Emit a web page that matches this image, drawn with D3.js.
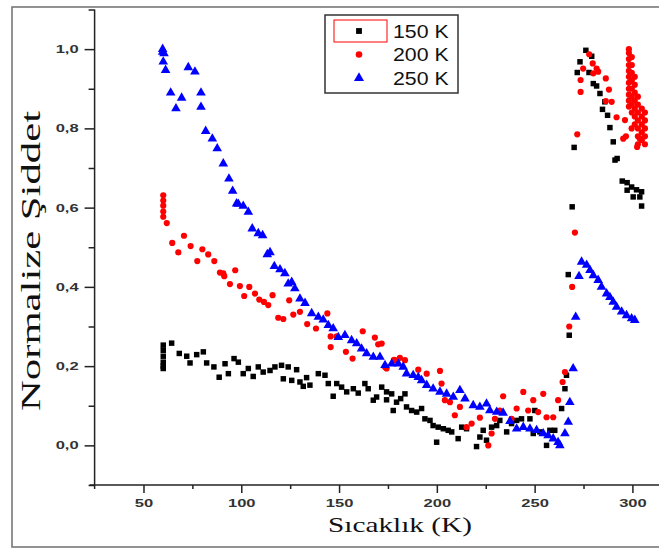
<!DOCTYPE html>
<html><head><meta charset="utf-8">
<script src="https://cdn.jsdelivr.net/npm/d3@7"></script>
<style>body{margin:0;background:#fff}svg{display:block}</style>
</head><body>
<svg id="c" width="659" height="549"></svg>
<script>
// ---- data (temperature K, normalized intensity) ----
const seriesNames = ["150 K", "200 K", "250 K"];
const xTicksMajor = [50, 100, 150, 200, 250, 300];
const yTicksMajor = [0, 0.2, 0.4, 0.6, 0.8, 1.0];

const s150 = [[60.1,0.253],[60.1,0.24],[60.1,0.225],[60.1,0.21],[60.1,0.2],[60.1,0.194],
[64.4,0.258],[68.3,0.232],[72.1,0.225],[73.8,0.208],[77.2,0.229],[80.6,0.236],[82.3,0.208],[86.0,0.198],[88.7,0.172],[91.7,0.206],[93.4,0.181],[96.3,0.219],[98.5,0.21],[101.0,0.181],[103.6,0.194],[106.1,0.174],[108.7,0.198],[111.2,0.185],[114.7,0.189],[117.2,0.198],[120.6,0.202],[124.0,0.198],[121.5,0.168],[125.8,0.164],[128.3,0.191],[130.0,0.16],[131.7,0.149],[135.1,0.152],[133.4,0.171],[139.4,0.181],[142.8,0.177],[144.5,0.156],[147.0,0.124],[148.8,0.156],[151.3,0.147],[153.9,0.135],[157.3,0.143],[159.8,0.132],[163.2,0.156],[164.9,0.143],[167.5,0.114],[169.2,0.122],[171.8,0.147],[174.3,0.115],[174.3,0.135],[176.9,0.13],[177.7,0.088],[179.4,0.109],[181.5,0.118],[183.7,0.13],[184.5,0.097],[187.1,0.088],[189.7,0.084],[192.2,0.093],[193.9,0.067],[196.5,0.063],[198.1,0.05],[199.9,0.008],[200.7,0.046],[203.3,0.042],[205.8,0.038],[207.6,0.034],[210.9,0.017],[212.7,0.046],[215.2,0.042],[220.3,-0.003],[222.0,0.021],[223.7,0.038],[225.4,0.013],[228.0,0.046],[230.6,0.05],[232.2,0.063],[235.7,0.034],[238.2,0.055],[240.8,0.063],[243.3,0.067],[247.6,0.067],[250.1,0.088],[249.3,0.03],[252.7,0.034],[256.1,0.0],[257.8,0.038],[260.3,0.038],[263.8,0.093],[265.5,0.143],[266.3,0.177],[267.7,0.278],[267.2,0.431],[269.2,0.602],[270.2,0.752],[271.8,0.941],[273.2,0.968],[276.2,0.997],[279.2,0.982],[277.8,0.941],[280.0,0.913],[281.7,0.907],[283.4,0.888],[284.7,0.848],[285.9,0.867],[287.3,0.833],[288.5,0.802],[290.2,0.766],[292.2,0.724],[291.1,0.72],[294.8,0.667],[297.3,0.663],[299.6,0.652],[302.1,0.645],[304.7,0.64],[297.3,0.644],[300.4,0.627],[303.8,0.627],[304.7,0.604]];

const s200 = [[60.1,0.631],[60.1,0.618],[60.1,0.605],[60.1,0.59],[60.1,0.577],[61.9,0.561],[64.7,0.511],[67.8,0.487],[70.7,0.529],[74.1,0.503],[77.5,0.465],[80.1,0.495],[83.1,0.482],[86.2,0.465],[89.1,0.436],[90.8,0.434],[91.3,0.427],[94.2,0.407],[96.9,0.442],[99.3,0.402],[101.5,0.377],[104.1,0.4],[107.0,0.383],[109.2,0.368],[111.6,0.362],[113.8,0.354],[116.0,0.379],[118.9,0.322],[121.5,0.319],[124.5,0.366],[126.6,0.33],[130.0,0.337],[133.7,0.306],[138.2,0.295],[144.0,0.333],[145.7,0.275],[145.7,0.248],[148.8,0.275],[153.5,0.236],[156.9,0.219],[162.1,0.288],[168.3,0.272],[170.0,0.255],[171.8,0.257],[173.5,0.198],[174.3,0.194],[178.1,0.216],[178.6,0.215],[181.1,0.221],[183.7,0.215],[190.5,0.191],[194.8,0.181],[201.6,0.188],[202.4,0.156],[204.1,0.114],[206.7,0.109],[209.2,0.076],[211.8,0.097],[215.2,0.046],[217.8,0.055],[222.0,0.07],[226.3,0.0],[228.0,0.03],[229.7,0.067],[232.2,0.088],[233.9,0.124],[238.2,0.067],[240.8,0.093],[244.2,0.135],[246.7,0.088],[249.3,0.114],[251.8,0.084],[254.4,0.13],[256.1,0.071],[259.5,0.071],[262.0,0.114],[264.3,0.16],[265.5,0.185],[267.7,0.3],[269.2,0.4],[270.6,0.537],[271.8,0.785],[273.5,0.892],[273.5,0.922],[274.8,0.951],[277.9,0.987],[279.7,0.964],[281.7,0.951],[280.0,0.939],[282.5,0.943],[286.4,0.926],[288.0,0.898],[286.4,0.869],[289.4,0.867],[291.9,0.828],[296.2,0.821],[299.6,0.8],[296.7,0.78],[295.3,0.774],[302.4,0.753],[303.8,0.774],
[298.2,1.0],[298.2,0.99],[298.2,0.975],[298.2,0.96],[298.2,0.945],[298.2,0.93],[298.2,0.915],[298.2,0.9],[298.2,0.885],[298.2,0.87],[298.2,0.855],
[299.7,0.98],[299.7,0.96],[299.7,0.94],[299.7,0.92],[299.7,0.9],[299.7,0.88],[299.7,0.86],[299.7,0.84],
[301.2,0.93],[301.2,0.91],[301.2,0.89],[301.2,0.87],[301.2,0.85],[301.2,0.83],[301.2,0.81],
[302.8,0.88],[302.8,0.86],[302.8,0.84],[302.8,0.82],[302.8,0.8],[302.8,0.78],[302.8,0.76],
[304.8,0.85],[304.8,0.83],[304.8,0.81],[304.8,0.79],[304.8,0.77],
[306.4,0.84],[306.4,0.82],[306.4,0.8],[306.4,0.78],[306.4,0.76]];

const s250 = [[59.8,1.0],[59.8,0.993],[60.5,0.989],[60.1,0.968],[61.3,0.947],[72.9,0.954],[76.3,0.943],[63.9,0.89],[69.5,0.877],[66.6,0.85],[79.4,0.89],[79.4,0.854],[81.8,0.793],[85.2,0.774],[87.7,0.749],[90.8,0.711],[93.7,0.673],[95.6,0.642],[97.6,0.61],[98.5,0.609],[101.0,0.604],[103.6,0.589],[105.6,0.547],[108.7,0.535],[110.9,0.53],[113.3,0.482],[114.7,0.487],[116.9,0.452],[119.8,0.444],[122.3,0.434],[124.0,0.408],[125.8,0.412],[127.4,0.396],[130.0,0.37],[132.6,0.359],[136.0,0.333],[139.4,0.324],[141.9,0.317],[144.5,0.303],[147.0,0.295],[149.6,0.273],[153.0,0.278],[156.4,0.265],[159.0,0.257],[161.5,0.244],[164.1,0.232],[167.5,0.223],[170.9,0.223],[173.5,0.202],[176.9,0.206],[180.3,0.206],[182.8,0.198],[184.5,0.181],[187.9,0.177],[190.5,0.172],[192.2,0.164],[194.8,0.152],[198.1,0.143],[201.6,0.135],[205.0,0.13],[208.4,0.122],[211.8,0.139],[214.4,0.118],[218.6,0.101],[222.0,0.097],[225.4,0.105],[227.1,0.088],[230.6,0.084],[233.9,0.082],[237.4,0.061],[240.8,0.042],[244.2,0.046],[247.6,0.042],[251.0,0.038],[254.4,0.03],[256.9,0.025],[259.5,0.017],[262.0,0.008],[262.9,0.0],[265.5,0.03],[267.2,0.059],[268.0,0.109],[269.7,0.194],[271.0,0.324],[272.7,0.427],[274.0,0.463],[276.6,0.455],[278.3,0.442],[280.0,0.429],[282.5,0.417],[284.2,0.4],[286.8,0.383],[288.5,0.374],[290.2,0.362],[291.9,0.349],[294.5,0.337],[297.0,0.328],[299.6,0.32],[301.2,0.316]];

const seriesData = [s150, s200, s250];
const seriesColors = ["#000000", "#ff0000", "#0000ff"];
const seriesSymbols = [d3.symbolSquare, d3.symbolCircle, d3.symbolTriangle];
const symbolSizes = [30, 30, 40];

// ---- drawing ----
const svg = d3.select("#c");
const x = d3.scaleLinear().domain([25, 325]).range([94.6, 681.3]);
const y = d3.scaleLinear().domain([-0.1, 1.1]).range([485, 9.5]);

function stretch(sel, k) {
  sel.each(function () {
    const w = this.getComputedTextLength();
    this.setAttribute("textLength", w * k);
    this.setAttribute("lengthAdjust", "spacingAndGlyphs");
  });
}

// outer frame
svg.append("rect").attr("x", 12).attr("y", 7).attr("width", 700).attr("height", 540)
  .attr("fill", "none").attr("stroke", "#777").attr("stroke-width", 1.6);

const fmt = v => d3.format(".1f")(v).replace(".", ",");

// y axis
const yMinor = d3.range(-0.1, 1.15, 0.2).map(v => +v.toFixed(1));
const gyMinor = svg.append("g").attr("transform", `translate(${x(25)},0)`)
  .call(d3.axisLeft(y).tickValues(yMinor).tickSize(6).tickFormat(""));
const gy = svg.append("g").attr("transform", `translate(${x(25)},0)`)
  .call(d3.axisLeft(y).tickValues(yTicksMajor).tickSize(10).tickPadding(6).tickFormat(fmt));
// x axis
const xMinor = [75, 125, 175, 225, 275];
const gxMinor = svg.append("g").attr("transform", `translate(0,${y(-0.1)})`)
  .call(d3.axisBottom(x).tickValues(xMinor).tickSize(4).tickFormat(""));
const gx = svg.append("g").attr("transform", `translate(0,${y(-0.1)})`)
  .call(d3.axisBottom(x).tickValues(xTicksMajor).tickSize(8).tickPadding(6).tickFormat(d3.format("d")));

[gyMinor, gy, gxMinor, gx].forEach(g => {
  g.select(".domain").remove();
  g.selectAll("line").attr("stroke", "#222").attr("stroke-width", 1.5);
});
[gy, gx].forEach(g => {
  g.selectAll("text").attr("font-family", "Arial, 'Liberation Sans', sans-serif")
    .attr("font-size", 11).attr("font-weight", "bold").attr("fill", "#333");
});
stretch(gy.selectAll("text"), 1.5);
stretch(gx.selectAll("text"), 1.5);

// axis lines
svg.append("line").attr("x1", x(25)).attr("x2", x(25)).attr("y1", y(1.1)).attr("y2", y(-0.1) + 4)
  .attr("stroke", "#222").attr("stroke-width", 1.5);
svg.append("line").attr("x1", x(25) - 5).attr("x2", 659).attr("y1", y(-0.1)).attr("y2", y(-0.1))
  .attr("stroke", "#222").attr("stroke-width", 1.5);

// points
const plot = svg.append("g");
seriesData.forEach((data, i) => {
  plot.append("g").selectAll("path").data(data).join("path")
    .attr("transform", d => `translate(${x(d[0])},${y(d[1])})`)
    .attr("d", d3.symbol().type(seriesSymbols[i]).size(symbolSizes[i]))
    .attr("fill", seriesColors[i]);
});

// axis titles
const xt = svg.append("text").attr("x", 400).attr("y", 532).attr("text-anchor", "middle")
  .attr("font-family", "'Liberation Serif', 'Times New Roman', serif").attr("font-size", 21)
  .attr("fill", "#111").text("Sıcaklık (K)");
xt.attr("textLength", 144).attr("lengthAdjust", "spacingAndGlyphs");
const yt = svg.append("text").attr("transform", "translate(40,261) rotate(-90)").attr("text-anchor", "middle")
  .attr("font-family", "'Liberation Serif', 'Times New Roman', serif").attr("font-size", 27)
  .attr("fill", "#111").text("Normalize Şiddet");
yt.attr("textLength", 300).attr("lengthAdjust", "spacingAndGlyphs");

// legend
const lg = svg.append("g");
lg.append("rect").attr("x", 325).attr("y", 15).attr("width", 133).attr("height", 78)
  .attr("fill", "#fff").attr("stroke", "#333").attr("stroke-width", 1.5);
lg.append("rect").attr("x", 334).attr("y", 20).attr("width", 53).attr("height", 22)
  .attr("fill", "none").attr("stroke", "#ff0000").attr("stroke-width", 1);
const rowsY = [31, 54.5, 78];
seriesNames.forEach((name, i) => {
  lg.append("path").attr("transform", `translate(359,${rowsY[i]})`)
    .attr("d", d3.symbol().type(seriesSymbols[i]).size(symbolSizes[i] + 4)).attr("fill", seriesColors[i]);
  const t = lg.append("text").attr("x", 393).attr("y", rowsY[i]).attr("dy", "0.36em")
    .attr("font-family", "Arial, 'Liberation Sans', sans-serif").attr("font-size", 18.5)
    .attr("fill", "#111").text(name);
  stretch(t, 1.15);
});
</script>
</body></html>
